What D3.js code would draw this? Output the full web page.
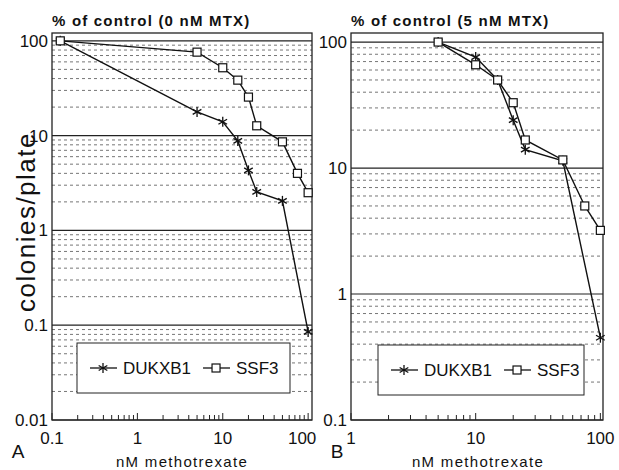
<!DOCTYPE html>
<html>
<head>
<meta charset="utf-8">
<script src="https://cdn.jsdelivr.net/npm/d3@7"></script>
<style>
  body { margin: 0; background: #fff; }
  svg { font-family: "Liberation Sans", Arial, sans-serif; }
</style>
</head>
<body>
<svg id="chart" width="619" height="470"></svg>
<script>
// Panel A: % of control (0 nM MTX)
const doseA_DUK = [0.125, 5, 10, 15, 20, 25, 50, 100];
const valA_DUK  = [100, 17.8, 14, 8.8, 4.3, 2.55, 2.05, 0.085];
const doseA_SSF = [0.125, 5, 10, 15, 20, 25, 50, 75, 100];
const valA_SSF  = [100, 76, 52, 38.5, 25.5, 12.7, 8.6, 4.0, 2.5];

// Panel B: % of control (5 nM MTX)
const doseB_DUK = [5, 10, 15, 20, 25, 50, 100];
const valB_DUK  = [100, 76, 50, 24, 14, 11.4, 0.45];
const doseB_SSF = [5, 10, 15, 20, 25, 50, 75, 100];
const valB_SSF  = [100, 66, 50, 33, 16.7, 11.6, 5.0, 3.2];

const seriesNames = ['DUKXB1', 'SSF3'];
const xTicksA = [0.1, 1, 10, 100];
const yTicksA = [0.01, 0.1, 1, 10, 100];
const xTicksB = [1, 10, 100];
const yTicksB = [0.1, 1, 10, 100];

const svg = d3.select('#chart');

const panels = [
  {
    title: '% of control (0 nM MTX)', letter: 'A',
    x: d3.scaleLog().domain([0.1, 111]).range([52, 312]),
    y: d3.scaleLog().domain([0.01, 121]).range([420, 33]),
    xTicks: xTicksA, yTicks: yTicksA,
    series: [
      { name: seriesNames[0], marker: 'star', xs: doseA_DUK, ys: valA_DUK },
      { name: seriesNames[1], marker: 'square', xs: doseA_SSF, ys: valA_SSF }
    ],
    legend: { x: 77, y: 343, w: 213, h: 50 },
    letterX: 18, titleX: 52, labelX: 182, lastLabelShift: -6
  },
  {
    title: '% of control (5 nM MTX)', letter: 'B',
    x: d3.scaleLog().domain([1, 105]).range([351, 603]),
    y: d3.scaleLog().domain([0.1, 118]).range([420, 33]),
    xTicks: xTicksB, yTicks: yTicksB,
    series: [
      { name: seriesNames[0], marker: 'star', xs: doseB_DUK, ys: valB_DUK },
      { name: seriesNames[1], marker: 'square', xs: doseB_SSF, ys: valB_SSF }
    ],
    legend: { x: 378, y: 345, w: 206, h: 50 },
    letterX: 337, titleX: 351, labelX: 478, lastLabelShift: 0
  }
];

function drawMarker(g, type, cx, cy) {
  if (type === 'square') {
    g.append('rect')
      .attr('x', cx - 4).attr('y', cy - 4)
      .attr('width', 8).attr('height', 8)
      .attr('fill', '#fff').attr('stroke', '#111').attr('stroke-width', 1.2);
  } else {
    const r = 5;
    [0, 60, 120].forEach(a => {
      const rad = a * Math.PI / 180;
      g.append('line')
        .attr('x1', cx - r * Math.sin(rad)).attr('y1', cy - r * Math.cos(rad))
        .attr('x2', cx + r * Math.sin(rad)).attr('y2', cy + r * Math.cos(rad))
        .attr('stroke', '#111').attr('stroke-width', 1.3);
    });
  }
}

// every 1..9 x 10^e inside a log domain
function logSteps(domain) {
  const out = [];
  for (let e = Math.floor(Math.log10(domain[0])); e <= Math.ceil(Math.log10(domain[1])); e++) {
    for (let m = 1; m <= 9; m++) {
      const v = m * Math.pow(10, e);
      if (v >= domain[0] && v <= domain[1]) out.push({ v, major: m === 1 });
    }
  }
  return out;
}

panels.forEach(p => {
  const g = svg.append('g');
  const [x0, x1] = p.x.range();
  const [y0, y1] = p.y.range();

  // horizontal grid: solid at decades, dashed in between
  g.selectAll('.grid')
    .data(logSteps(p.y.domain()))
    .enter().append('line')
    .attr('x1', x0).attr('x2', x1)
    .attr('y1', d => p.y(d.v)).attr('y2', d => p.y(d.v))
    .attr('stroke', d => d.major ? '#222' : '#666')
    .attr('stroke-width', d => d.major ? 1.2 : 0.9)
    .attr('stroke-dasharray', d => d.major ? null : '3,3');

  // x minor ticks along bottom
  g.selectAll('.xtick')
    .data(logSteps(p.x.domain()))
    .enter().append('line')
    .attr('x1', d => p.x(d.v)).attr('x2', d => p.x(d.v))
    .attr('y1', y0).attr('y2', d => y0 - (d.major ? 7 : 5))
    .attr('stroke', '#222').attr('stroke-width', 1);

  // legend box (drawn before data so lines stay on top)
  const L = p.legend;
  g.append('rect')
    .attr('x', L.x).attr('y', L.y).attr('width', L.w).attr('height', L.h)
    .attr('fill', '#fff').attr('stroke', '#222').attr('stroke-width', 1);

  // frame
  g.append('rect')
    .attr('x', x0).attr('y', y1).attr('width', x1 - x0).attr('height', y0 - y1)
    .attr('fill', 'none').attr('stroke', '#222').attr('stroke-width', 1.3);

  // series
  const line = d3.line().x(d => p.x(d[0])).y(d => p.y(d[1]));
  p.series.forEach(s => {
    const pts = s.xs.map((xv, i) => [xv, s.ys[i]]);
    g.append('path').datum(pts)
      .attr('d', line)
      .attr('fill', 'none').attr('stroke', '#111').attr('stroke-width', 1.4);
    pts.forEach(d => drawMarker(g, s.marker, p.x(d[0]), p.y(d[1])));
  });

  // legend entries
  const ly = L.y + L.h / 2;
  let lx = L.x + 13;
  p.series.forEach(s => {
    g.append('line').attr('x1', lx).attr('x2', lx + 27)
      .attr('y1', ly).attr('y2', ly)
      .attr('stroke', '#111').attr('stroke-width', 1.3);
    drawMarker(g, s.marker, lx + 13, ly);
    const t = g.append('text')
      .attr('x', lx + 33).attr('y', ly + 6)
      .attr('font-size', 17).attr('fill', '#111')
      .text(s.name);
    lx += 33 + t.node().getComputedTextLength() + 12;
  });

  // y tick labels
  g.selectAll('.ylab')
    .data(p.yTicks)
    .enter().append('text')
    .attr('x', x0 - 4).attr('y', d => p.y(d) + 6)
    .attr('text-anchor', 'end')
    .attr('font-size', 17).attr('fill', '#111')
    .text(d => d);

  // x tick labels
  const nx = p.xTicks.length;
  g.selectAll('.xlab')
    .data(p.xTicks)
    .enter().append('text')
    .attr('x', (d, i) => p.x(d) + (i === nx - 1 ? p.lastLabelShift : 0)).attr('y', 444)
    .attr('text-anchor', 'middle')
    .attr('font-size', 17).attr('fill', '#111')
    .text(d => d);

  // title
  g.append('text')
    .attr('x', p.titleX).attr('y', 26)
    .attr('font-size', 15).attr('font-weight', 'bold')
    .attr('letter-spacing', 1.2).attr('fill', '#111')
    .text(p.title);

  // x axis label
  g.append('text')
    .attr('x', p.labelX).attr('y', 467)
    .attr('text-anchor', 'middle')
    .attr('font-size', 15).attr('letter-spacing', 1.3).attr('fill', '#111')
    .text('nM methotrexate');

  // panel letter
  g.append('text')
    .attr('x', p.letterX).attr('y', 458)
    .attr('text-anchor', 'middle')
    .attr('font-size', 19).attr('fill', '#111')
    .text(p.letter);
});

// shared y label
svg.append('text')
  .attr('transform', 'translate(35,222) rotate(-90)')
  .attr('text-anchor', 'middle')
  .attr('font-size', 26).attr('letter-spacing', 1.5).attr('fill', '#111')
  .text('colonies/plate');
</script>
</body>
</html>
